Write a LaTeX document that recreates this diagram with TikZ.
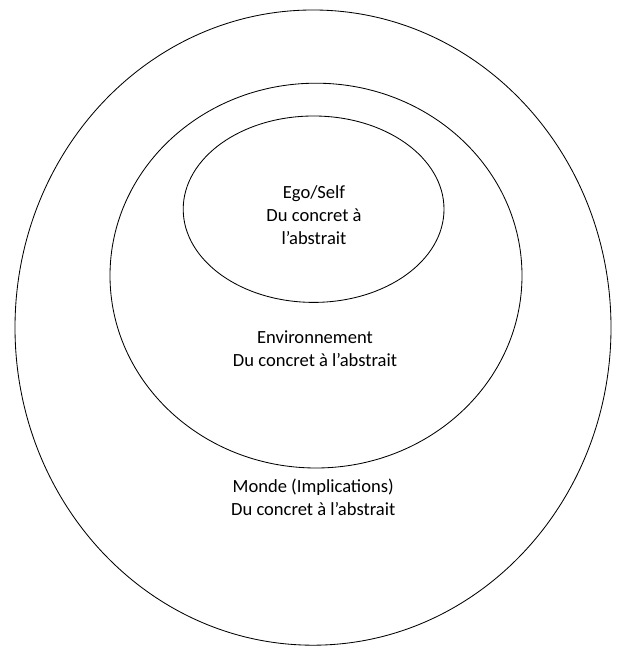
\documentclass[tikz,border=0pt]{standalone}
\usepackage{fontspec}
\setmainfont{Carlito}
\begin{document}
\begin{tikzpicture}[every node/.style={align=center,font=\fontsize{13.2}{16.4}\selectfont}]
            \useasboundingbox (0,0) rectangle (15.4,16.2);
            \draw[semithick] (7.825,8.01) ellipse (7.45 and 7.94);
            \draw[semithick] (7.9,9.31) ellipse (5.15 and 4.81);
            \draw[semithick] (7.84,10.97) ellipse (3.26 and 2.33);
            
            \node (ego) at (7.85,10.83) {Ego/Self\\Du concret à\\l’abstrait};
            \node (env) at (7.875,7.49) {Environnement\\Du concret à l’abstrait};
            \node (monde) at (7.83,3.76) {Monde (Implications)\\Du concret à l’abstrait};
            \end{tikzpicture}
\end{document}
